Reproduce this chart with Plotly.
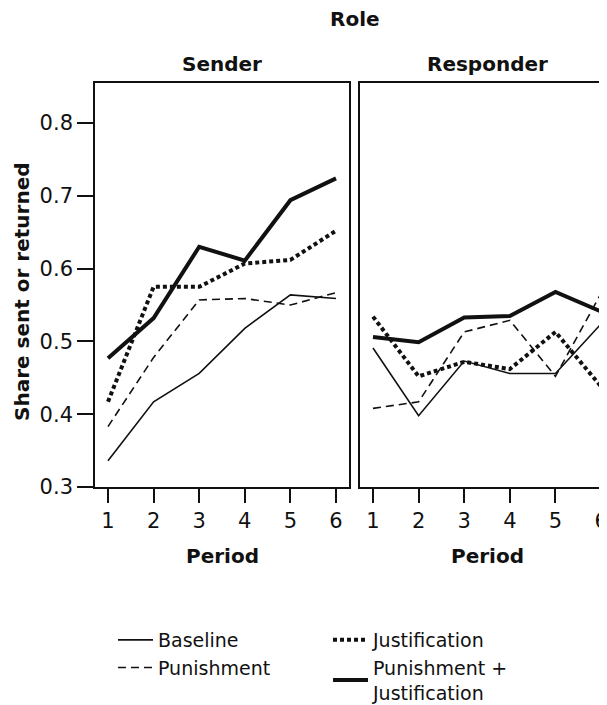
import plotly.graph_objects as go

periods = [1, 2, 3, 4, 5, 6]
tick_vals_y = [0.3, 0.4, 0.5, 0.6, 0.7, 0.8]
tick_text_y = ["0.3", "0.4", "0.5", "0.6", "0.7", "0.8"]

series_names = ["Baseline", "Punishment", "Justification", "Punishment +<br>Justification"]

sender_baseline = [0.336, 0.417, 0.456, 0.518, 0.564, 0.559]
sender_punishment = [0.383, 0.478, 0.557, 0.559, 0.550, 0.567]
sender_justification = [0.417, 0.575, 0.575, 0.607, 0.612, 0.652]
sender_pun_just = [0.477, 0.532, 0.630, 0.611, 0.694, 0.724]

responder_baseline = [0.491, 0.398, 0.473, 0.456, 0.456, 0.524]
responder_punishment = [0.408, 0.417, 0.513, 0.529, 0.452, 0.566]
responder_justification = [0.534, 0.452, 0.472, 0.462, 0.513, 0.438]
responder_pun_just = [0.506, 0.499, 0.533, 0.535, 0.568, 0.541]

FONT = "DejaVu Sans, Arial, sans-serif"
INK = "#111111"

styles = {
    "Baseline": dict(color=INK, width=1.6, dash="solid"),
    "Punishment": dict(color=INK, width=1.6, dash="8px,5px"),
    "Justification": dict(color=INK, width=4, dash="4px,3px"),
    "Punishment +<br>Justification": dict(color=INK, width=4, dash="solid"),
}
legend_of = {
    "Baseline": "legend",
    "Punishment": "legend",
    "Justification": "legend2",
    "Punishment +<br>Justification": "legend2",
}

sender = {
    "Baseline": sender_baseline,
    "Punishment": sender_punishment,
    "Justification": sender_justification,
    "Punishment +<br>Justification": sender_pun_just,
}
responder = {
    "Baseline": responder_baseline,
    "Punishment": responder_punishment,
    "Justification": responder_justification,
    "Punishment +<br>Justification": responder_pun_just,
}

fig = go.Figure()
for name in series_names:
    fig.add_trace(go.Scatter(x=periods, y=sender[name], mode="lines", name=name,
                             line=styles[name], xaxis="x", yaxis="y", showlegend=True,
                             legend=legend_of[name]))
for name in series_names:
    fig.add_trace(go.Scatter(x=periods, y=responder[name], mode="lines", name=name,
                             line=styles[name], xaxis="x2", yaxis="y2", showlegend=False))

# page body has an 8px margin: work in reference pixel coords, shift by 8
OFF = 8
W, H = 607 - OFF, 705 - OFF
ml = 95 - OFF
mt = 83 - OFF
mr = 0
mb = H - (487 - OFF)
pw = W - ml - mr
ph = H - mt - mb

def px(x):
    return (x - OFF - ml) / pw

def py(y):
    return (H - mb - (y - OFF)) / ph

axis_common = dict(showgrid=False, zeroline=False, linecolor=INK, linewidth=1.6,
                   showline=True, tickcolor=INK, tickwidth=1.6,
                   tickfont=dict(family=FONT, size=21, color=INK))

leg_common = dict(orientation="v", xanchor="left", yanchor="top", traceorder="normal",
                  font=dict(family=FONT, size=19, color=INK), bgcolor="rgba(0,0,0,0)",
                  itemwidth=35, tracegroupgap=0, borderwidth=0)

fig.update_layout(
    width=W, height=H,
    margin=dict(l=ml, r=mr, t=mt, b=mb, pad=0, autoexpand=False),
    paper_bgcolor="white", plot_bgcolor="white",
    font=dict(family=FONT, color=INK),
    xaxis=dict(domain=[0, px(349)], range=[0.715, 6.285], tickvals=periods, ticklen=14,
               ticks="outside", mirror=True, anchor="y", **axis_common),
    yaxis=dict(domain=[0, 1], range=[0.3, 0.855], tickvals=tick_vals_y, ticktext=tick_text_y,
               ticks="outside", ticklen=16, mirror=True, anchor="x", **axis_common),
    xaxis2=dict(domain=[px(360), 1], range=[0.715, 6.13], tickvals=periods, ticklen=14,
                ticks="outside", mirror=True, anchor="y2", ticklabeloverflow="allow",
                **axis_common),
    yaxis2=dict(domain=[0, 1], range=[0.3, 0.855], tickvals=tick_vals_y, ticks="",
                showticklabels=False, mirror=False, anchor="x2", **axis_common),
    legend=dict(x=px(113), y=py(621), **leg_common),
    legend2=dict(x=px(328), y=py(621), **leg_common),
    showlegend=True,
)

annots = [
    dict(text="<b>Role</b>", x=354.5, y=19, size=20),
    dict(text="<b>Sender</b>", x=222, y=64, size=20),
    dict(text="<b>Responder</b>", x=487, y=64, size=20),
    dict(text="<b>Period</b>", x=222, y=556, size=20),
    dict(text="<b>Period</b>", x=487, y=556, size=20),
]
for a in annots:
    fig.add_annotation(text=a["text"], x=px(a["x"]), y=py(a["y"]), xref="paper", yref="paper",
                       xanchor="center", yanchor="middle", showarrow=False,
                       font=dict(family=FONT, size=a["size"], color=INK))
fig.add_annotation(text="<b>Share sent or returned</b>", x=px(22), y=py(292), xref="paper",
                   yref="paper", xanchor="center", yanchor="middle", showarrow=False,
                   textangle=-90, font=dict(family=FONT, size=20, color=INK))

fig.write_html("out.html")
